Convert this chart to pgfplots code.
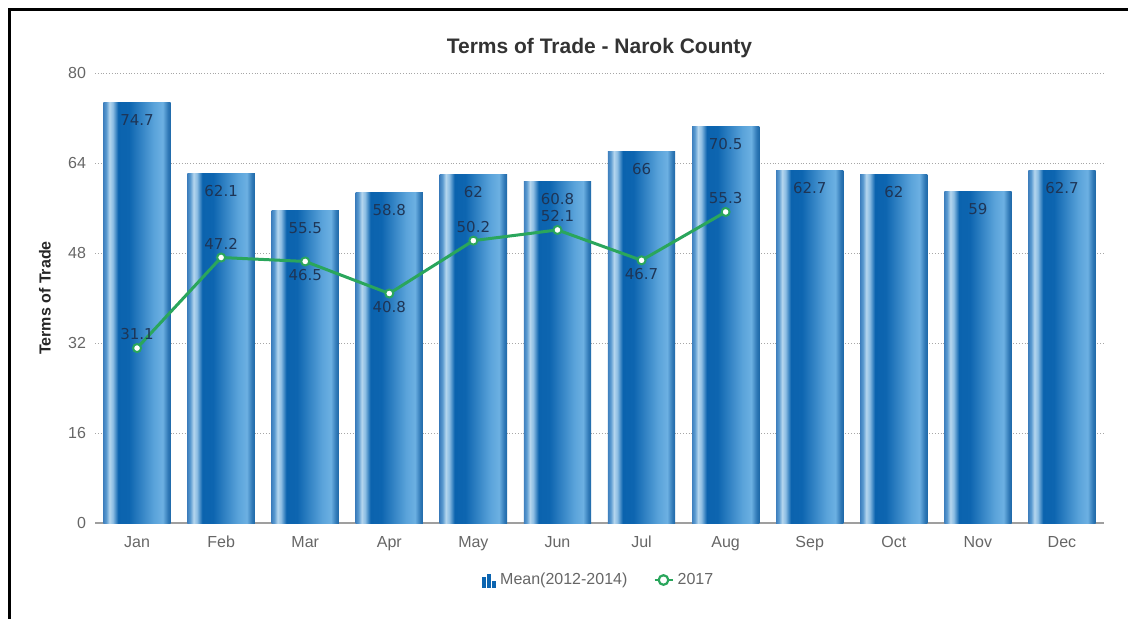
\documentclass[border=0pt]{standalone}
\usepackage{fontspec}
\setmainfont{Liberation Sans}
\newfontfamily\labfont{DejaVu Sans}
\usepackage{pgfplots}
\pgfplotsset{compat=1.18}
\usepackage{pgfplotstable}

\definecolor{barblue}{HTML}{0B64B0}
\definecolor{lineg}{HTML}{2AA65C}
\definecolor{labcol}{HTML}{1E3556}
\definecolor{tickcol}{HTML}{666666}
\definecolor{b1}{HTML}{3F80BE}
\definecolor{b2}{HTML}{5A9AD0}
\definecolor{b3}{HTML}{B5D6EE}
\definecolor{b4}{HTML}{8CBDE3}
\definecolor{b5}{HTML}{0B63AE}
\definecolor{b6}{HTML}{0D65B0}
\definecolor{b7}{HTML}{5AA3DA}
\definecolor{b8}{HTML}{6CB0E2}
\definecolor{b9}{HTML}{2F78B6}
\definecolor{b10}{HTML}{1E68A8}

\pgfdeclarehorizontalshading{barshade}{100bp}{
color(0bp)=(b1); color(25bp)=(b1); color(27bp)=(b2); color(29.5bp)=(b3); color(32bp)=(b4);
color(36bp)=(b5); color(44bp)=(b6); color(62.5bp)=(b7); color(69bp)=(b8);
color(73bp)=(b9); color(75bp)=(b10); color(100bp)=(b10)}

\pgfplotstableread{
x mean
0 74.7
1 62.1
2 55.5
3 58.8
4 62
5 60.8
6 66
7 70.5
8 62.7
9 62
10 59
11 62.7
}\meantable

\pgfplotstableread{
x val pos
0 31.1 1
1 47.2 1
2 46.5 -1
3 40.8 -1
4 50.2 1
5 52.1 1
6 46.7 -1
7 55.3 1
}\yeartable

\begin{document}
\begin{tikzpicture}
\useasboundingbox (0,0) rectangle (564pt,309pt);
\begin{axis}[
  scale only axis, width=504.5pt, height=225pt,
  at={(47.5pt,47.5pt)}, anchor=south west,
  xmin=-0.5, xmax=11.5, ymin=0, ymax=80,
  axis line style={draw=none},
  tick style={draw=none},
  ytick={16,32,48,64,80},
  extra y ticks={0},
  extra y tick style={grid style={solid, draw=gray!75, line width=0.6pt}},
  ymajorgrids,
  grid style={densely dotted, draw=gray!70, line width=0.5pt},
  xtick={0,...,11},
  xticklabels={Jan,Feb,Mar,Apr,May,Jun,Jul,Aug,Sep,Oct,Nov,Dec},
  ticklabel style={font=\fontsize{8}{10}\selectfont, text=tickcol},
  xticklabel style={yshift=-3pt},
  yticklabel style={xshift=-1pt},
  /pgf/number format/assume math mode=true,
  title={Terms of Trade - Narok County},
  title style={font=\fontsize{10.5}{12}\selectfont\bfseries, text=black!80, at={(0.5,1)}, anchor=center, yshift=6.5pt},
  ylabel={Terms of Trade},
  every axis y label/.style={at={(0,0.5)}, xshift=-25pt, rotate=90, anchor=center,
     font=\fontsize{8}{10}\selectfont\bfseries, text=black!85},
  legend style={draw=none, at={(0.5,0)}, anchor=center, yshift=-28.5pt,
    legend columns=2, font=\fontsize{8}{10}\selectfont, text=tickcol,
    /tikz/every even column/.append style={column sep=11pt}},
]
\pgfplotsinvokeforeach{0,...,11}{
\addplot[ybar, bar width=0.8, bar shift=0pt, draw=none, shading=barshade, forget plot]
  table[x=x,y=mean, restrict x to domain=#1:#1]{\meantable};
}
\addlegendimage{legend image code/.code={
    \fill[barblue] (0pt,-3.5pt) rectangle (1.6pt,1.5pt);
    \fill[barblue] (2.6pt,-3.5pt) rectangle (4.2pt,3pt);
    \fill[barblue] (5.2pt,-3.5pt) rectangle (6.8pt,-0.5pt);
  }}
\addlegendentry{Mean(2012-2014)}

\addplot[draw=lineg, line width=1.5pt, mark=*, mark size=2pt,
  mark options={fill=white, draw=lineg, line width=1pt},
  legend image code/.code={
    \draw[lineg, line width=1.1pt] (0pt,0pt) -- (9pt,0pt);
    \draw[lineg, fill=white, line width=1.1pt] (4.5pt,0pt) circle (2.4pt);
  }] table[x=x,y=val]{\yeartable};
\addlegendentry{2017}

\addplot[draw=none, forget plot, nodes near coords,
  nodes near coords style={anchor=north, yshift=-2.5pt, font=\labfont\fontsize{7.5}{9}\selectfont, text=labcol}]
  table[x=x,y=mean]{\meantable};

\addplot[draw=none, forget plot, nodes near coords,
  visualization depends on={\thisrow{pos}\as\lpos},
  nodes near coords style={anchor=center, yshift={\lpos*7pt}, font=\labfont\fontsize{7.5}{9}\selectfont, text=labcol}]
  table[x=x,y=val]{\yeartable};
\end{axis}
\draw[line width=1.5pt] (4.75pt,-2pt) -- (4.75pt,304.25pt) -- (566pt,304.25pt);
\end{tikzpicture}
\end{document}
